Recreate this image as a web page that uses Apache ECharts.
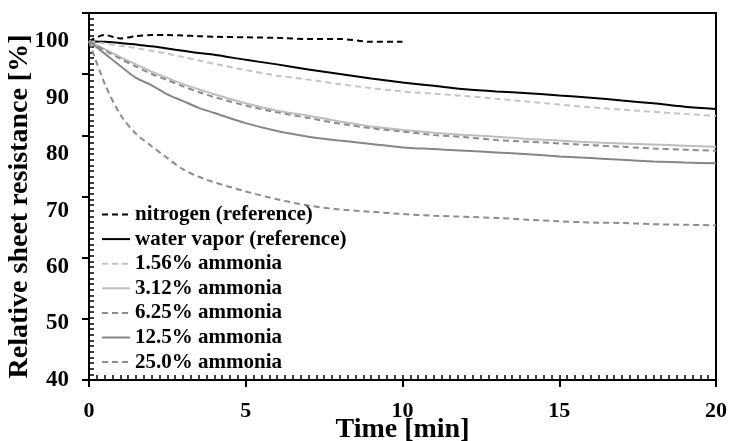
<!DOCTYPE html>
<html>
<head>
<meta charset="utf-8">
<script src="https://cdn.jsdelivr.net/npm/echarts@6/dist/echarts.min.js"></script>
<style>
  html, body { margin: 0; padding: 0; background: #fff; }
  #main { width: 729px; height: 441px; }
</style>
</head>
<body>
<div id="main"></div>
<script>
// time axis (min) shared by all curves
const times = [0, 0.5, 1, 1.5, 2, 2.5, 3, 3.5, 4, 5, 6, 7, 8, 9, 10, 11, 12, 13, 14, 15, 16, 17, 18, 19, 20];

// relative sheet resistance [%]
const nitrogen = [100, 101.1, 100.5, 100.9, 101.1, 101.1, 101.0, 100.9, 100.8, 100.7, 100.6, 100.4, 100.4, 99.9, 99.9];
const waterVapor = [100, 99.9, 99.7, 99.4, 99.1, 98.7, 98.3, 97.9, 97.6, 96.7, 95.9, 95.0, 94.2, 93.4, 92.7, 92.1, 91.5, 91.1, 90.8, 90.4, 90.0, 89.5, 89.0, 88.4, 88.0];
const amm156 = [100, 99.6, 99.2, 98.8, 98.3, 97.8, 97.2, 96.6, 96.0, 94.9, 93.9, 93.2, 92.4, 91.7, 91.1, 90.7, 90.3, 89.8, 89.3, 88.8, 88.3, 87.9, 87.5, 87.1, 86.8];
const amm312 = [100, 98.6, 97.2, 95.9, 94.6, 93.5, 92.4, 91.5, 90.6, 89.0, 87.7, 86.8, 85.8, 84.9, 84.3, 83.8, 83.4, 83.1, 82.7, 82.4, 82.1, 81.9, 81.7, 81.5, 81.3];
const amm625 = [100, 98.4, 96.9, 95.5, 94.2, 93.1, 92.0, 91.0, 90.1, 88.6, 87.4, 86.4, 85.4, 84.6, 84.0, 83.4, 83.0, 82.5, 82.2, 81.9, 81.6, 81.3, 81.0, 80.8, 80.6];
const amm125 = [100, 97.8, 95.6, 93.5, 92.2, 90.6, 89.4, 88.2, 87.3, 85.5, 84.1, 83.1, 82.4, 81.8, 81.2, 80.9, 80.6, 80.3, 80.0, 79.6, 79.3, 79.0, 78.7, 78.5, 78.4];
const amm250 = [100, 92.5, 87.0, 83.6, 81.4, 79.3, 77.3, 76.0, 75.0, 73.4, 72.0, 70.9, 70.2, 69.8, 69.4, 69.1, 68.9, 68.7, 68.4, 68.1, 67.9, 67.8, 67.6, 67.5, 67.4];

const seriesNames = ["nitrogen (reference)", "water vapor (reference)", "1.56% ammonia", "3.12% ammonia", "6.25% ammonia", "12.5% ammonia", "25.0% ammonia"];

const font = "'Liberation Serif', 'Times New Roman', serif";

function pairs(vals) {
  return vals.map((v, i) => [times[i], v]);
}

function line(name, vals, color, dashed) {
  return {
    name: name,
    type: "line",
    xAxisIndex: 0,
    yAxisIndex: 0,
    smooth: 0.3,
    symbol: "none",
    data: pairs(vals),
    itemStyle: { color: color },
    lineStyle: { color: color, width: 2, type: dashed ? [6, 4] : "solid" }
  };
}

let chart = echarts.init(document.getElementById("main"));
chart.setOption({
  animation: false,
  grid: {
    left: 89, right: 13, top: 13, bottom: 61,
    containLabel: false, outerBoundsMode: "none",
    show: true, borderColor: "#000", borderWidth: 2
  },
  legend: {
    orient: "vertical",
    left: 96,
    top: 199,
    itemWidth: 28,
    itemHeight: 14,
    itemGap: 3.6,
    data: seriesNames,
    itemStyle: { opacity: 0 },
    textStyle: { fontFamily: font, fontWeight: "bold", fontSize: 21, lineHeight: 20, color: "#000" }
  },
  xAxis: [
    {
      // minor ticks every 0.25 min inside, labels every 5 min
      type: "value", min: 0, max: 20, interval: 0.25, position: "bottom",
      name: "Time [min]", nameLocation: "middle", nameGap: 36, nameMoveOverlap: false,
      nameTextStyle: { fontFamily: font, fontWeight: "bold", fontSize: 28, color: "#000" },
      axisLine: { show: true, lineStyle: { color: "#000", width: 2 } },
      axisTick: { show: true, inside: true, length: 5, lineStyle: { color: "#000", width: 1.5 } },
      axisLabel: {
        margin: 20, fontFamily: font, fontWeight: "bold", fontSize: 22, color: "#000",
        formatter: v => (v % 5 === 0 ? String(v) : "")
      },
      splitLine: { show: false }
    },
    {
      // major ticks pointing out
      type: "value", min: 0, max: 20, interval: 5, position: "bottom", offset: 0,
      axisLine: { show: true, lineStyle: { color: "#000", width: 2 } },
      axisTick: { show: true, inside: true, length: -7, lineStyle: { color: "#000", width: 2 } },
      axisLabel: { show: false },
      splitLine: { show: false }
    }
  ],
  yAxis: [
    {
      // minor ticks every 1 % inside, labels every 10 %
      type: "value", min: 40, max: 105, interval: 1, position: "left",
      name: "Relative sheet resistance [%]", nameLocation: "middle", nameGap: 55, nameMoveOverlap: false,
      nameTextStyle: { fontFamily: font, fontWeight: "bold", fontSize: 28, color: "#000", padding: [0, 20, 0, 0] },
      axisLine: { show: true, lineStyle: { color: "#000", width: 2 } },
      axisTick: { show: true, inside: true, length: 5, lineStyle: { color: "#000", width: 1.5 } },
      axisLabel: {
        margin: 20, fontFamily: font, fontWeight: "bold", fontSize: 23, color: "#000",
        formatter: v => (v % 10 === 0 ? String(v) : "")
      },
      splitLine: { show: false }
    },
    {
      // major ticks pointing out
      type: "value", min: 40, max: 100, interval: 10, position: "left", offset: 0,
      axisLine: { show: true, lineStyle: { color: "#000", width: 2 } },
      axisTick: { show: true, inside: true, length: -7, lineStyle: { color: "#000", width: 2 } },
      axisLabel: { show: false },
      splitLine: { show: false }
    }
  ],
  series: [
    line(seriesNames[0], nitrogen, "#000000", true),
    line(seriesNames[1], waterVapor, "#000000", false),
    line(seriesNames[2], amm156, "#c4c4c4", true),
    line(seriesNames[3], amm312, "#bdbdbd", false),
    line(seriesNames[4], amm625, "#8c8c8c", true),
    line(seriesNames[5], amm125, "#868686", false),
    line(seriesNames[6], amm250, "#8c8c8c", true),
    // empty series that only bind the major-tick axes
    { type: "line", xAxisIndex: 1, yAxisIndex: 1, data: [], silent: true }
  ]
});
</script>
</body>
</html>
